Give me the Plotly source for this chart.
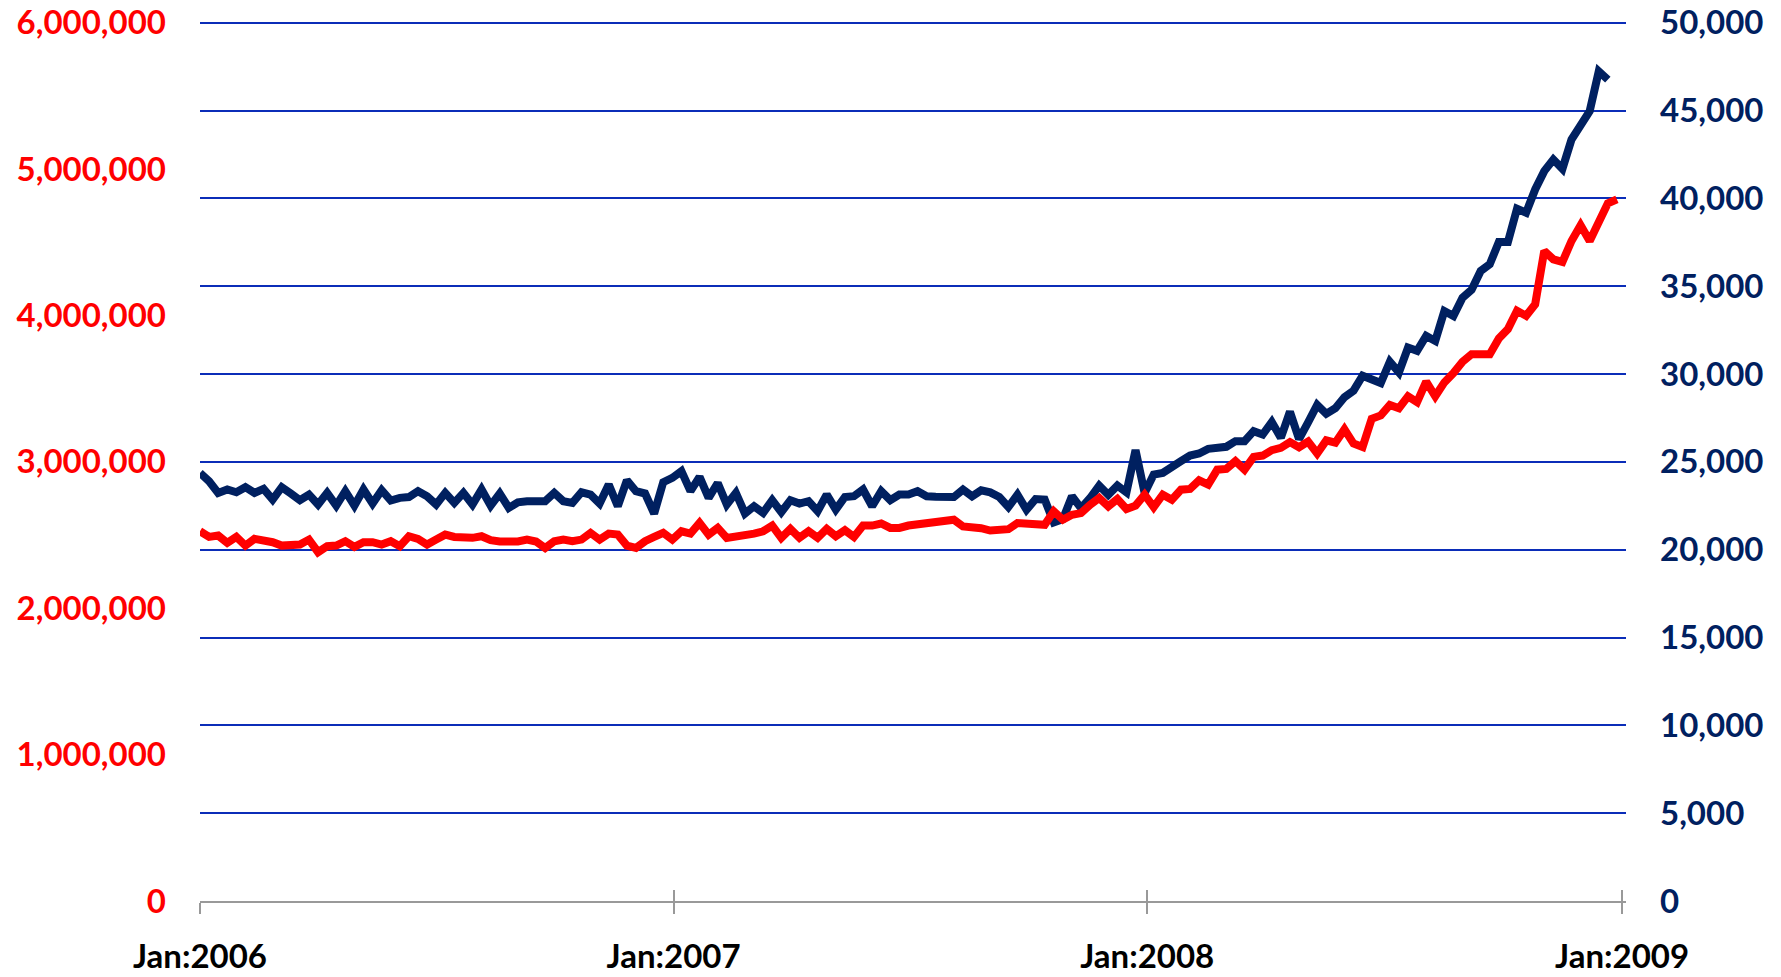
import plotly.graph_objects as go
import pandas as pd

# Weekly observations, Jan 2006 - Dec 2008
start_date = "2006-01-01"

red_values = [
    2526000, 2487500, 2496600, 2446500, 2487500, 2428000, 2474000, 2469000, 2451000, 2428000,
    2435000, 2435000, 2469000, 2383000, 2424000, 2428000, 2458000, 2419000, 2451000, 2451000,
    2435000, 2458000, 2424000, 2492000, 2474000, 2435000, 2469000, 2503000, 2487000, 2481000,
    2481000, 2492000, 2465000, 2456000, 2451000, 2456000, 2469000, 2456000, 2412000, 2458000,
    2469000, 2458000, 2469000, 2515000, 2469000, 2510000, 2503000, 2428000, 2412000, 2458000,
    2487000, 2515000, 2469000, 2526000, 2510000, 2583000, 2503000, 2549000, 2481000, 2487000,
    2492000, 2510000, 2526000, 2565000, 2481000, 2542000, 2481000, 2526000, 2481000, 2542000,
    2492000, 2533000, 2487000, 2565000, 2565000, 2579000, 2549000, 2549000, 2565000, 2572000,
    2583000, 2590000, 2598000, 2605000, 2559000, 2559000, 2547000, 2531000, 2536000, 2540000,
    2582000, 2582000, 2577000, 2570000, 2662000, 2605000, 2639000, 2650000, 2707000, 2753000,
    2696000, 2746000, 2678000, 2701000, 2776000, 2691000, 2776000, 2742000, 2810000, 2815000,
    2874000, 2845000, 2947000, 2952000, 3005000, 2947000, 3034000, 3043000, 3080000, 3096000,
    3135000, 3100000, 3139000, 3057000, 3147000, 3131000, 3222000, 3125000, 3102000, 3294000,
    3317000, 3389000, 3367000, 3448000, 3408000, 3548000, 3448000, 3543000, 3607000, 3684000,
    3736000, 3736000, 3735000, 3843000, 3907000, 4032000, 3998000, 4077000, 4441000, 4384000,
    4366000, 4509000, 4616000, 4509000, 4634000, 4766000, 4793000,
]

navy_values = [
    24370, 23900, 23235, 23425, 23270, 23560, 23235, 23460, 22855, 23560,
    23200, 22820, 23140, 22570, 23235, 22510, 23330, 22510, 23425, 22630,
    23390, 22800, 22950, 23000, 23330, 23045, 22570, 23235, 22665, 23235,
    22570, 23425, 22510, 23200, 22380, 22700, 22760, 22760, 22760, 23235,
    22760, 22665, 23270, 23140, 22630, 23710, 22475, 23955, 23330, 23200,
    22060, 23840, 24090, 24470, 23330, 24145, 22950, 23800, 22570, 23235,
    22060, 22475, 22100, 22820, 22135, 22820, 22630, 22760, 22190, 23140,
    22285, 23000, 23045, 23425, 22475, 23330, 22820, 23140, 23140, 23330,
    23045, 23020, 23040, 23000, 23420, 23040, 23380, 23265, 23000, 22430,
    23130, 22275, 22885, 22850, 21550, 21740, 23040, 22370, 22940, 23650,
    23130, 23650, 23265, 25670, 23230, 24280, 24370, 24750, 25040, 25360,
    25480, 25740, 25800, 25860, 26180, 26180, 26750, 26560, 27270, 26370,
    27860, 26300, 27250, 28245, 27736, 28056, 28679, 29057, 29906, 29717,
    29490, 30698, 30094, 31510, 31321, 32170, 31887, 33585, 33302, 34340,
    34800, 35870, 36250, 37519, 37519, 39413, 39186, 40511, 41553, 42216,
    41686, 43352, 44148, 44962, 47235, 46762,
]

x_tick_dates = ["2006-01-01", "2007-01-01", "2008-01-01", "2009-01-01"]
x_tick_labels = ["Jan:2006", "Jan:2007", "Jan:2008", "Jan:2009"]
left_ticks = [0, 1000000, 2000000, 3000000, 4000000, 5000000, 6000000]
right_ticks = [0, 5000, 10000, 15000, 20000, 25000, 30000, 35000, 40000, 45000, 50000]

red_dates = pd.date_range(start_date, periods=len(red_values), freq="7D")
navy_dates = pd.date_range(start_date, periods=len(navy_values), freq="7D")

RED = "#FF0000"
NAVY = "#002060"
GRID = "#0B2DB8"
AXIS_GREY = "#999999"
FONT = "Lato"
x_range = ["2006-01-01", "2009-01-04"]
# small headroom so the top gridline is not dropped at the plot edge
right_range = [0, 50100]
left_range = [0, 6012000]

fig = go.Figure()
# navy on the base subplot (drawn first), red on the overlaid subplot (on top)
fig.add_trace(go.Scatter(
    x=navy_dates, y=navy_values, mode="lines", xaxis="x", yaxis="y",
    line=dict(color=NAVY, width=8), showlegend=False, hoverinfo="skip",
))
fig.add_trace(go.Scatter(
    x=red_dates, y=red_values, mode="lines", xaxis="x2", yaxis="y2",
    line=dict(color=RED, width=8), showlegend=False, hoverinfo="skip",
))

fig.update_layout(
    width=1781, height=977,
    margin=dict(l=200, r=155, t=21, b=76),
    paper_bgcolor="white", plot_bgcolor="white",
    showlegend=False,
    xaxis=dict(
        type="date", range=x_range, anchor="y",
        tickmode="array", tickvals=x_tick_dates, ticktext=x_tick_labels,
        ticks="outside", ticklen=11, tickwidth=2, tickcolor=AXIS_GREY,
        showline=True, linecolor=AXIS_GREY, linewidth=2,
        showgrid=False, zeroline=False, automargin=False,
        tickfont=dict(family=FONT, size=33, color="black", weight="bold"),
        ticklabelstandoff=14,
    ),
    xaxis2=dict(
        type="date", range=x_range, overlaying="x", anchor="y2", side="bottom",
        tickmode="array", tickvals=x_tick_dates,
        ticks="inside", ticklen=11, tickwidth=2, tickcolor=AXIS_GREY,
        showticklabels=False, showline=False, showgrid=False, zeroline=False,
        automargin=False,
    ),
    yaxis=dict(
        range=right_range, side="right", anchor="x",
        tickmode="array", tickvals=right_ticks, tickformat=",d",
        showgrid=True, gridcolor=GRID, gridwidth=2,
        zeroline=False, showline=False, ticks="", automargin=False,
        tickfont=dict(family=FONT, size=33, color=NAVY, weight="bold"),
        ticklabelstandoff=33,
    ),
    yaxis2=dict(
        range=left_range, overlaying="y", side="left", anchor="x2",
        tickmode="array", tickvals=left_ticks, tickformat=",d",
        showgrid=False, zeroline=False, showline=False, ticks="",
        automargin=False,
        tickfont=dict(family=FONT, size=33, color=RED, weight="bold"),
        ticklabelstandoff=33,
    ),
)

# remove the browser's default page margin so the figure sits at the window origin
fig.write_html(
    "out.html",
    config={"displayModeBar": False},
    post_script="document.body.style.margin='0';document.body.style.overflow='hidden';",
)
